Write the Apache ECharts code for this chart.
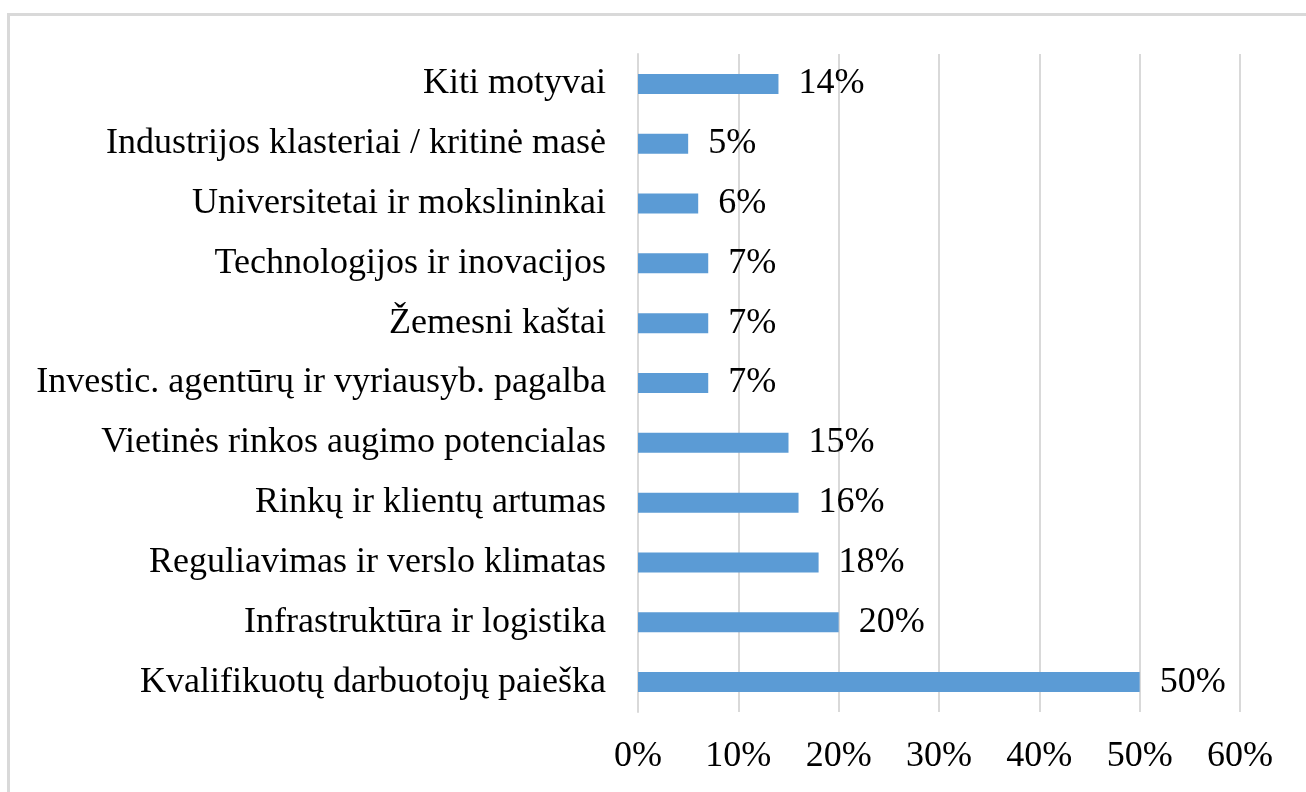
<!DOCTYPE html>
<html lang="lt">
<head>
    <meta charset="UTF-8"/>
    <script src="https://cdn.jsdelivr.net/npm/echarts@6/dist/echarts.min.js"></script>
    <title>Motyvai</title>
    <style>
        html, body { margin: 0; padding: 0; background: #fff; }
    </style>
</head>
<body>
<div id="main" style="width: 1306px;height:792px;"></div>
<script type="text/javascript">
    // kategorijos nuo apacios i virsu
    var categories = [
        'Kvalifikuotų darbuotojų paieška',
        'Infrastruktūra ir logistika',
        'Reguliavimas ir verslo klimatas',
        'Rinkų ir klientų artumas',
        'Vietinės rinkos augimo potencialas',
        'Investic. agentūrų ir vyriausyb. pagalba',
        'Žemesni kaštai',
        'Technologijos ir inovacijos',
        'Universitetai ir mokslininkai',
        'Industrijos klasteriai / kritinė masė',
        'Kiti motyvai'
    ];
    var values = [50, 20, 18, 16, 15, 7, 7, 7, 6, 5, 14];
    var axisMin = 0, axisMax = 60, axisStep = 10;

    var myChart = echarts.init(document.getElementById('main'));
    var font = '"Liberation Serif", "Times New Roman", serif';

    var option = {
        animation: false,
        graphic: [{
            type: 'rect',
            shape: {x: 8.5, y: 14.5, width: 1400, height: 900},
            style: {fill: 'none', stroke: '#d9d9d9', lineWidth: 3},
            silent: true
        }],
        grid: {left: 638, right: 66, top: 54, bottom: 80},
        xAxis: {
            type: 'value',
            min: axisMin,
            max: axisMax,
            interval: axisStep,
            axisLine: {show: false},
            axisTick: {show: false},
            splitLine: {lineStyle: {color: '#d9d9d9', width: 2}},
            axisLabel: {
                formatter: '{value}%',
                color: '#000',
                fontFamily: font,
                fontSize: 36,
                margin: 27
            }
        },
        yAxis: {
            type: 'category',
            data: categories,
            axisLine: {lineStyle: {color: '#d9d9d9', width: 2}},
            axisTick: {show: false},
            axisLabel: {
                color: '#000',
                fontFamily: font,
                fontSize: 36,
                margin: 32
            }
        },
        series: [{
            type: 'bar',
            data: values,
            barWidth: 20,
            itemStyle: {color: '#5b9bd5'},
            label: {
                show: true,
                position: 'right',
                distance: 20,
                formatter: '{c}%',
                color: '#000',
                fontFamily: font,
                fontSize: 36
            }
        }]
    };

    myChart.setOption(option);
</script>
</body>
</html>
